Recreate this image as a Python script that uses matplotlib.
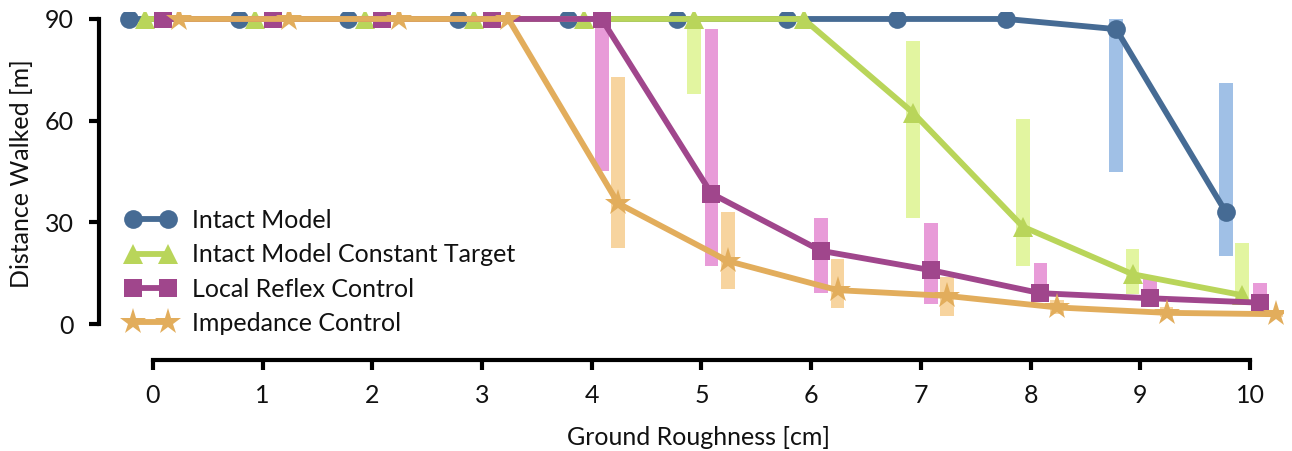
import matplotlib
matplotlib.use("Agg")
import matplotlib.pyplot as plt
import numpy as np

plt.rcParams['font.family'] = ['Lato', 'DejaVu Sans']

roughness = [0, 1, 2, 3, 4, 5, 6, 7, 8, 9, 10]
x_ticks = [0, 1, 2, 3, 4, 5, 6, 7, 8, 9, 10]
y_ticks = [0, 30, 60, 90]

labels = ["Intact Model", "Intact Model Constant Target",
          "Local Reflex Control", "Impedance Control"]

intact_mean = [90, 90, 90, 90, 90, 90, 90, 90, 90, 87, 33]
intact_lo = [90, 90, 90, 90, 90, 90, 90, 90, 90, 45, 20]
intact_hi = [90, 90, 90, 90, 90, 90, 90, 90, 90, 90, 71]

const_mean = [90, 90, 90, 90, 90, 90, 90, 62.3, 28.7, 14.7, 8.5]
const_lo = [90, 90, 90, 90, 90, 68, 90, 31.4, 17, 9, 7.7]
const_hi = [90, 90, 90, 90, 90, 90, 90, 83.6, 60.4, 22, 24]

reflex_mean = [90, 90, 90, 90, 90, 38.5, 21.6, 15.9, 9.1, 7.6, 6.3]
reflex_lo = [90, 90, 90, 90, 45.2, 17.2, 9.1, 5.9, 8, 8, 6]
reflex_hi = [90, 90, 90, 90, 88, 87.1, 31.2, 29.7, 17.9, 13.2, 12]

imped_mean = [90, 90, 90, 90, 35.6, 18.6, 10.0, 8.3, 4.9, 3.3, 2.9]
imped_lo = [90, 90, 90, 90, 22.3, 10.2, 4.8, 2.5, 3, 2, 2]
imped_hi = [90, 90, 90, 90, 73, 33, 19.3, 14, 7, 5, 4]

means = [intact_mean, const_mean, reflex_mean, imped_mean]
los = [intact_lo, const_lo, reflex_lo, imped_lo]
his = [intact_hi, const_hi, reflex_hi, imped_hi]

offsets = [-0.22, -0.07, 0.09, 0.24]
colors = ['#466b94', '#b9d55a', '#a0468c', '#e2ad5c']
light = ['#a0c0e6', '#e2f5a0', '#e89bd8', '#f7d49f']
markers = ['o', '^', 's', '*']
msizes = [13.5, 15, 13, 20]

fig = plt.figure(figsize=(12.92, 4.51), dpi=100)
ax = fig.add_axes([114.6/1292, 1-334.2/451, (1282.9-114.6)/1292, (334.2-12.2)/451])

x = np.array(roughness, dtype=float)
for i in range(4):
    lo = np.array(los[i]); hi = np.array(his[i])
    ax.bar(x + offsets[i], hi - lo, bottom=lo, width=0.125, color=light[i],
           zorder=1, linewidth=0)

for i in range(4):
    ax.plot(x + offsets[i], means[i], color=colors[i], marker=markers[i],
            markersize=msizes[i], linewidth=4.2, label=labels[i], zorder=3 + i,
            markeredgewidth=0)

ax.set_xlim(-0.35, 10.3)
ax.set_ylim(-3, 92)
ax.set_xticks(x_ticks)
ax.set_yticks(y_ticks)
ax.tick_params(labelsize=18, width=3, length=7.5, direction='out',
               labelcolor='#111111')
ax.tick_params(axis='x', pad=9.5)
ax.tick_params(axis='y', pad=10.5)
for s in ['top', 'right']:
    ax.spines[s].set_visible(False)
ax.spines['left'].set_position(('outward', 11.5))
ax.spines['bottom'].set_position(('outward', 18.5))
ax.spines['left'].set_bounds(0, 90)
ax.spines['bottom'].set_bounds(0, 10)
ax.spines['left'].set_linewidth(3)
ax.spines['bottom'].set_linewidth(3)

ax.set_xlabel("Ground Roughness [cm]", fontsize=18, labelpad=14, color='#111111')
ax.set_ylabel("Distance Walked [m]", fontsize=18, labelpad=8, color='#111111')

ax.legend(loc='lower left', bbox_to_anchor=(-0.010, -0.072), frameon=False,
          fontsize=18, numpoints=2, handlelength=2.0, labelspacing=0.45,
          handletextpad=0.65, labelcolor='#111111')

fig.savefig("out.png", dpi=100)
